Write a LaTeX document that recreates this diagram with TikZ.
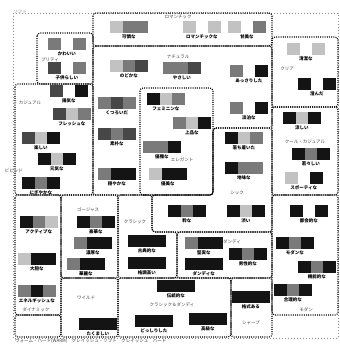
\documentclass[tikz,border=0pt]{standalone}
\usepackage{fontspec}
\newfontfamily\jp{Noto Sans CJK JP}
\colorlet{negro}{black!92}
\colorlet{oscuro}{black!72}
\colorlet{medio}{black!52}
\colorlet{claro}{black!24}
\colorlet{blanco}{white}
\tikzset{
  caja/.style={line width=1.1pt, dash pattern=on 1pt off 1.2pt, rounded corners=3pt},
  marco/.style={black!45, line width=0.6pt, dash pattern=on 0.6pt off 2.4pt},
  etiq/.style={font=\jp\bfseries\fontsize{4.5}{5}\selectfont, inner sep=0pt},
  cat/.style={font=\jp\fontsize{4.5}{5}\selectfont, text=black!75, inner sep=0pt}
}
% muestra: nombre, x, y, tres colores, texto
\newcommand{\muestra}[7]{%
  \fill[#4] (#2,#3) rectangle ++(12.5,12);
  \fill[#5] (#2+12.5,#3) rectangle ++(12.5,12);
  \fill[#6] (#2+25,#3) rectangle ++(12.5,12);
  \node[etiq] (#1) at (#2+18.75,#3+16) {#7};
}
\begin{document}
\begin{tikzpicture}[x=1pt,y=-1pt]
  \useasboundingbox (0,0) rectangle (339,344);
  %Marco
  \draw[marco] (13,13) rectangle (338,338);
  \node[cat, text=black!45] (soft) at (20,12) {ソフト};
  %Cajas
  \draw[caja] (93,13) rectangle (272,46);
  \draw[caja] (37,33) rectangle (93,84);
  \draw[caja] (15,84) rectangle (93,195);
  \draw[caja] (93,46) -- (272,46) -- (272,128) -- (213,128) -- (213,195) -- (93,195) -- cycle;
  \draw[caja] (140,88) rectangle (213,195);
  \draw[caja] (213,128) -- (272,128) -- (272,232) -- (152,232) -- (152,195) -- (213,195) -- cycle;
  \draw[caja] (15,195) rectangle (61,315);
  \draw[caja] (15,315) rectangle (61,337);
  \draw[caja] (61,195) rectangle (118,278);
  \draw[caja] (61,278) rectangle (118,337);
  \draw[caja] (118,195) -- (152,195) -- (152,232) -- (177,232) -- (177,278) -- (118,278) -- cycle;
  \draw[caja] (177,232) rectangle (272,278);
  \draw[caja] (118,278) rectangle (231,337);
  \draw[caja] (231,278) rectangle (272,337);
  \draw[caja] (272,37) rectangle (338,107);
  \draw[caja] (272,107) rectangle (338,195);
  \draw[caja] (272,195) rectangle (338,315);
  %Romantica
  \node[cat] (romantica) at (178,17) {ロマンチック};
  \muestra{r1}{110}{21}{claro}{medio}{medio}{可憐な}
  \muestra{r2}{183}{21}{claro}{blanco}{claro}{ロマンチックな}
  \muestra{r3}{228}{21}{claro}{blanco}{medio}{甘美な}
  %Pretty
  \node[cat] (pretty) at (50,60) {プリティ};
  \muestra{p1}{48}{38}{medio}{blanco}{medio}{かわいい}
  \muestra{p2}{48}{62}{oscuro}{blanco}{medio}{子供らしい}
  %Casual
  \node[cat] (casual) at (30,103) {カジュアル};
  \muestra{c1}{50}{85}{oscuro}{blanco}{negro}{陽気な}
  \muestra{c2}{53}{108}{oscuro}{claro}{medio}{フレッシュな}
  \muestra{c3}{22}{132}{oscuro}{claro}{negro}{楽しい}
  \muestra{c4}{38}{153}{negro}{claro}{negro}{元気な}
  \muestra{c5}{22}{177}{negro}{medio}{negro}{にぎやかな}
  \node[cat] (vivid) at (14,171) {ビビッド};
  %Natural
  \node[cat] (natural) at (178,57) {ナチュラル};
  \muestra{n1}{110}{60}{claro}{medio}{oscuro}{のどかな}
  \muestra{n2}{163}{62}{medio}{medio}{oscuro}{やさしい}
  \muestra{n3}{230}{65}{medio}{blanco}{negro}{あっさりした}
  \muestra{n4}{230}{102}{medio}{blanco}{negro}{淡泊な}
  \muestra{n5}{98}{97}{medio}{oscuro}{medio}{くつろいだ}
  \muestra{n6}{98}{128}{oscuro}{medio}{oscuro}{素朴な}
  \muestra{n7}{98}{168}{medio}{negro}{negro}{穏やかな}
  %Elegante
  \node[cat] (elegante) at (182,160) {エレガント};
  \muestra{e1}{147}{93}{negro}{claro}{medio}{フェミニンな}
  \muestra{e2}{173}{117}{medio}{claro}{negro}{上品な}
  \muestra{e3}{143}{141}{medio}{medio}{negro}{優雅な}
  \muestra{e4}{149}{168}{claro}{negro}{negro}{優美な}
  %Chic
  \node[cat] (chic) at (237,193) {シック};
  \muestra{s1}{225}{132}{negro}{claro}{medio}{落ち着いた}
  \muestra{s2}{225}{162}{negro}{medio}{medio}{地味な}
  \muestra{s3}{168}{205}{negro}{medio}{negro}{粋な}
  \muestra{s4}{227}{205}{negro}{claro}{negro}{渋い}
  %Dinamica
  \node[cat] (dinamica) at (36,310) {ダイナミック};
  \muestra{a1}{20}{216}{negro}{medio}{claro}{アクティブな}
  \muestra{a2}{18}{253}{claro}{negro}{negro}{大胆な}
  \muestra{a3}{18}{285}{medio}{negro}{medio}{エネルギッシュな}
  %Gorgeous
  \node[cat] (gorgeous) at (88,210) {ゴージャス};
  \muestra{g1}{77}{216}{negro}{medio}{negro}{豪華な}
  \muestra{g2}{74}{237}{medio}{negro}{negro}{濃厚な}
  \muestra{g3}{67}{258}{medio}{negro}{negro}{華麗な}
  %Wild
  \node[cat] (wild) at (86,298) {ワイルド};
  \muestra{w1}{79}{318}{negro}{negro}{negro}{たくましい}
  %Clasica
  \node[cat] (clasica) at (135,222) {クラシック};
  \muestra{k1}{128}{235}{negro}{negro}{negro}{古典的な}
  \muestra{k2}{128}{257}{negro}{negro}{negro}{格調高い}
  %Dandy
  \node[cat] (dandy) at (232,242) {ダンディ};
  \muestra{d1}{185}{237}{medio}{negro}{negro}{堅実な}
  \muestra{d2}{185}{258}{negro}{negro}{negro}{ダンディな}
  \muestra{d3}{229}{248}{negro}{medio}{negro}{男性的な}
  %Clasica y dandy
  \node[cat] (clasdandy) at (172,305) {クラシック＆ダンディ};
  \muestra{cd1}{157}{280}{negro}{negro}{negro}{伝統的な}
  \muestra{cd2}{135}{315}{negro}{negro}{negro}{どっしりした}
  \muestra{cd3}{189}{313}{negro}{negro}{negro}{高級な}
  %Sharp
  \node[cat] (sharp) at (251,323) {シャープ};
  \muestra{f1}{232}{291}{negro}{negro}{negro}{格式ある}
  %Clara
  \node[cat] (clara) at (287,69) {クリア};
  \muestra{q1}{287}{43}{claro}{blanco}{claro}{清潔な}
  \muestra{q2}{298}{78}{negro}{blanco}{negro}{澄んだ}
  %Cool casual
  \node[cat] (coolcasual) at (305,142) {クール・カジュアル};
  \muestra{q3}{283}{112}{negro}{claro}{negro}{涼しい}
  \muestra{q4}{292}{148}{negro}{medio}{negro}{若々しい}
  \muestra{q5}{285}{172}{claro}{blanco}{negro}{スポーティな}
  %Moderna
  \node[cat] (moderna) at (306,310) {モダン};
  \muestra{m1}{290}{205}{negro}{blanco}{negro}{都会的な}
  \muestra{m2}{276}{237}{negro}{medio}{negro}{モダンな}
  \muestra{m3}{298}{261}{negro}{medio}{negro}{機能的な}
  \muestra{m4}{274}{284}{negro}{medio}{negro}{合理的な}
  %Eje
  \node[cat, anchor=west] (eje) at (15,341) {ウォーム・ハード(WARM)　グレイッシュ・ソフト　グレイッシュ　ハード};
\end{tikzpicture}
\end{document}
